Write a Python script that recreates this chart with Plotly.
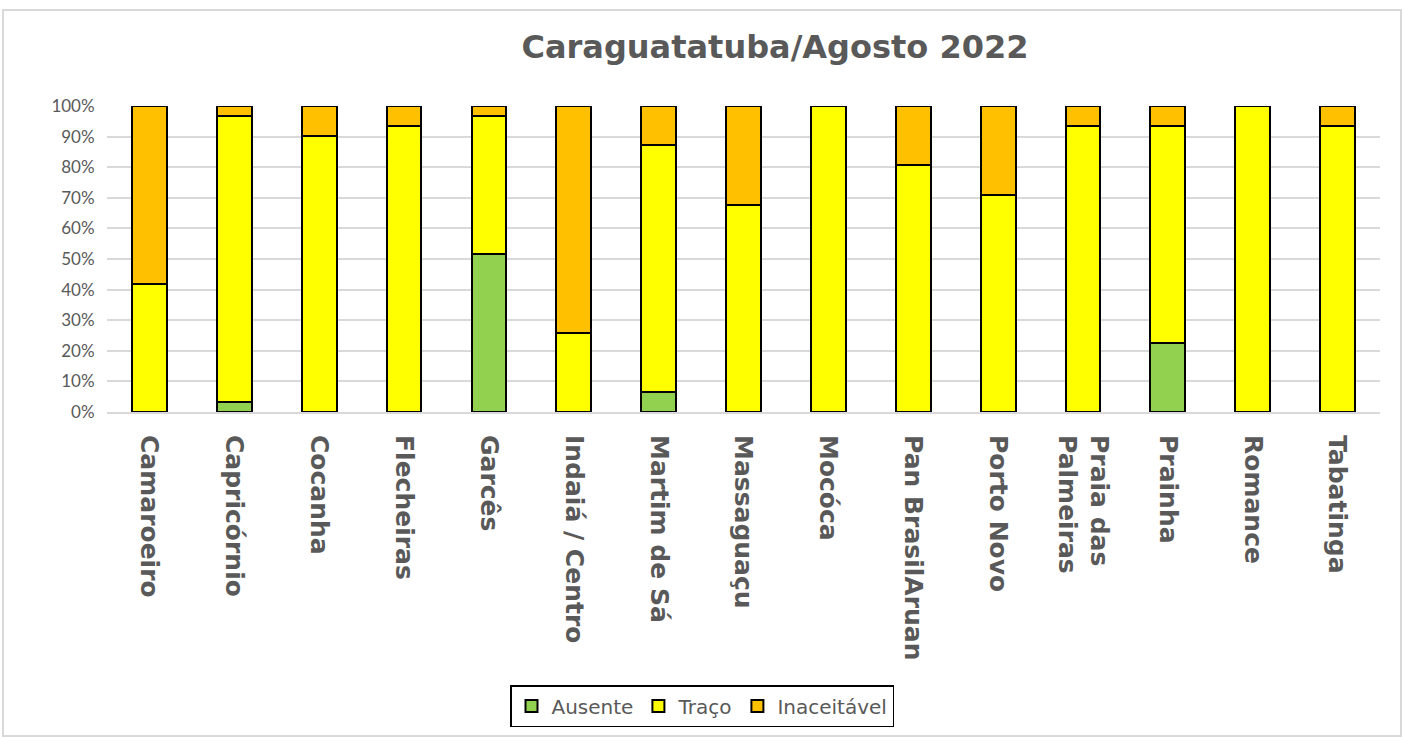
import plotly.graph_objects as go

categories = ["Camaroeiro", "Capricórnio", "Cocanha", "Flecheiras", "Garcês",
              "Indaiá / Centro", "Martim de Sá", "Massaguaçu", "Mocóca",
              "Pan BrasilAruan", "Porto Novo", "Praia das<br>Palmeiras",
              "Prainha", "Romance", "Tabatinga"]
ausente =     [0.0, 3.2, 0.0, 0.0, 51.6, 0.0, 6.5, 0.0, 0.0, 0.0, 0.0, 0.0, 22.6, 0.0, 0.0]
traco =       [41.9, 93.6, 90.3, 93.5, 45.2, 25.8, 80.6, 67.7, 100.0, 80.6, 71.0, 93.5, 71.0, 100.0, 93.5]
inaceitavel = [58.1, 3.2, 9.7, 6.5, 3.2, 74.2, 12.9, 32.3, 0.0, 19.4, 29.0, 6.5, 6.4, 0.0, 6.5]

series_names = ["Ausente", "Traço", "Inaceitável"]
series_colors = ["#92D050", "#FFFF00", "#FFC000"]
series_values = [ausente, traco, inaceitavel]

FONT_B = "DejaVu Sans"
FONT = "Lato"
GRAY = "#595959"

fig = go.Figure()
for name, color, vals in zip(series_names, series_colors, series_values):
    fig.add_trace(go.Bar(
        x=categories, y=vals, name=name,
        marker=dict(color=color, line=dict(color="black", width=2)),
    ))

W, H = 1402, 737
L, R, T, B = 107, 22, 106, 325
pw = W - L - R
ph = H - T - B

def px_x(p):
    return (p - L) / pw

def px_y(p):
    return (H - B - p) / ph

fig.update_layout(
    width=W, height=H,
    barmode="stack", bargap=0.59,
    plot_bgcolor="white", paper_bgcolor="white",
    margin=dict(l=L, r=R, t=T, b=B, autoexpand=False),
    title=dict(text="<b>Caraguatatuba/Agosto 2022</b>", x=px_x(775), xref="paper",
               xanchor="center", y=1 - 47 / H, yanchor="middle",
               font=dict(family=FONT_B, size=32, color=GRAY)),
    font=dict(family=FONT, color=GRAY),
    legend=dict(orientation="h", x=px_x(702), xanchor="center",
                y=px_y(706), yanchor="middle",
                bordercolor="black", borderwidth=1.5,
                font=dict(family=FONT_B, size=20, color=GRAY),
                traceorder="normal"),
    yaxis=dict(range=[0, 100], dtick=10, ticksuffix="%",
               showgrid=True, gridcolor="#d9d9d9", gridwidth=2,
               zeroline=False, showline=False,
               ticks="outside", ticklen=8, tickcolor="rgba(0,0,0,0)",
               tickfont=dict(family=FONT, size=17, color=GRAY)),
    xaxis=dict(tickangle=90, showline=True, linecolor="#d9d9d9", linewidth=2,
               ticks="outside", ticklen=16, tickcolor="rgba(0,0,0,0)",
               tickfont=dict(family=FONT_B, size=25, color=GRAY)),
)
fig.update_xaxes(tickprefix="<b>", ticksuffix="</b>")

fig.add_shape(type="rect", xref="paper", yref="paper",
              x0=px_x(3), x1=px_x(1401), y0=px_y(736), y1=px_y(10),
              line=dict(color="#d9d9d9", width=2), layer="below")

fig.write_html("out.html", config={"displayModeBar": False},
               post_script="document.body.style.margin='0';")
